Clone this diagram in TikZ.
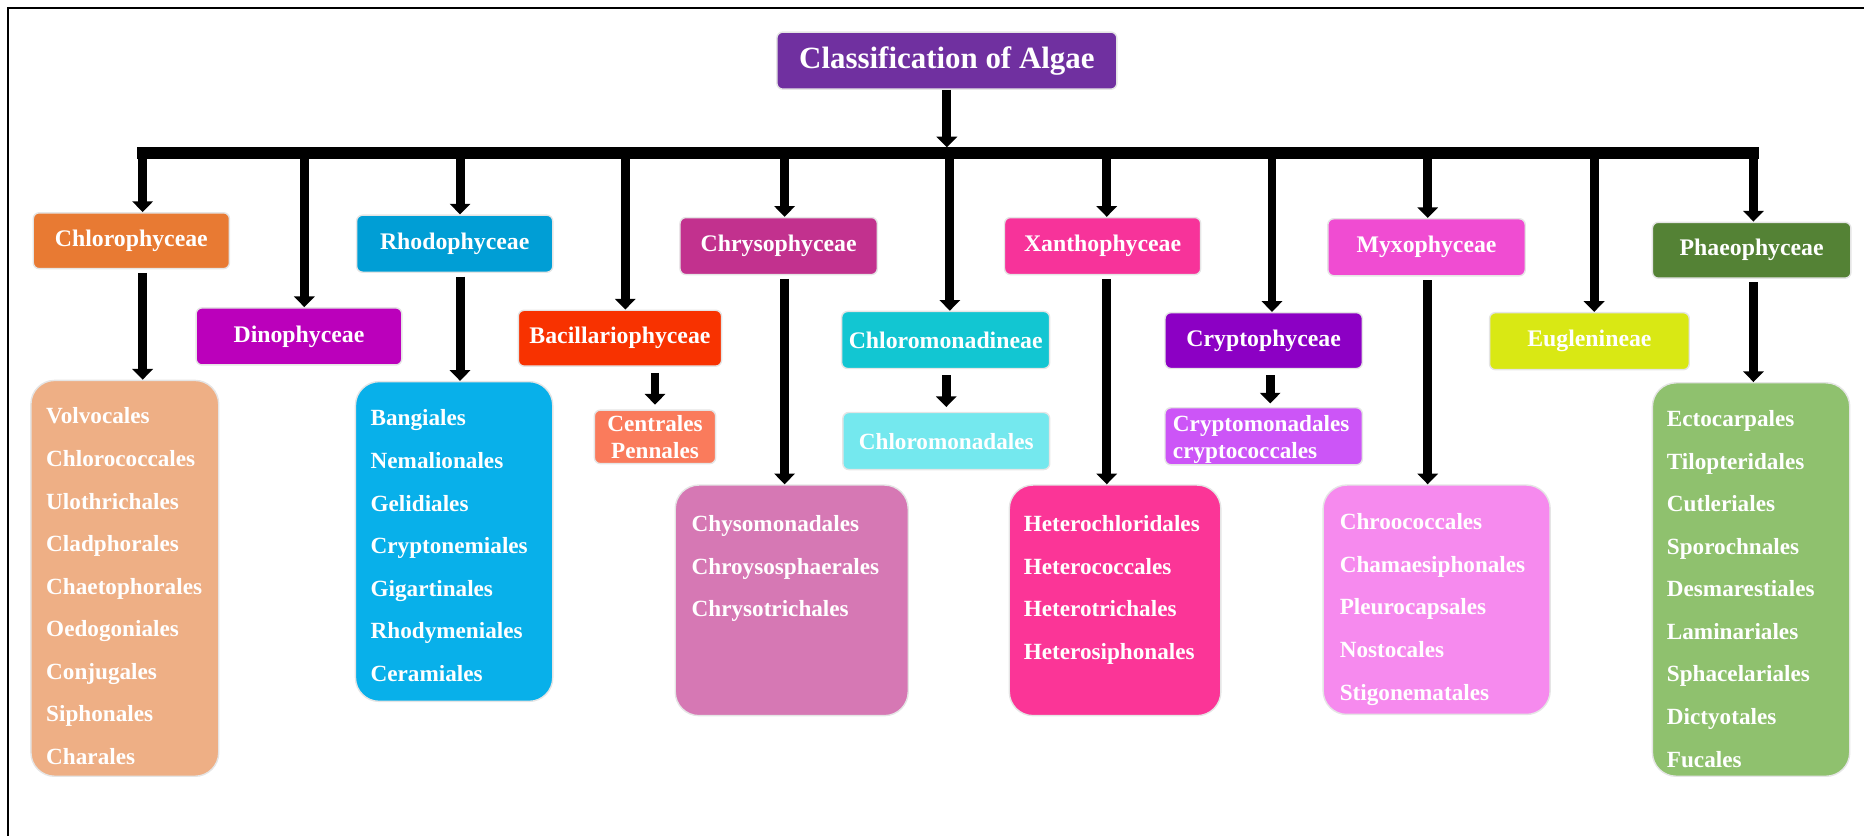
\documentclass[tikz,border=0pt]{standalone}
\usepackage{fontspec}
\setmainfont{Liberation Serif}
\usetikzlibrary{arrows.meta}
\definecolor{cTitle}{HTML}{7030A0}
\definecolor{cChl}{HTML}{E87A33}
\definecolor{cDin}{HTML}{BB00BB}
\definecolor{cRho}{HTML}{009ED5}
\definecolor{cBac}{HTML}{F83200}
\definecolor{cChr}{HTML}{C2318E}
\definecolor{cChm}{HTML}{12C6D2}
\definecolor{cXan}{HTML}{F7339A}
\definecolor{cCry}{HTML}{8C00C4}
\definecolor{cMyx}{HTML}{F04CD2}
\definecolor{cEug}{HTML}{D9E814}
\definecolor{cPha}{HTML}{548235}
\definecolor{lChl}{HTML}{EEAF85}
\definecolor{lRho}{HTML}{08B0EA}
\definecolor{lBac}{HTML}{FA7B5C}
\definecolor{lChr}{HTML}{D678B4}
\definecolor{lChm}{HTML}{74E8EE}
\definecolor{lXan}{HTML}{FB3597}
\definecolor{lCry}{HTML}{CC55F7}
\definecolor{lMyx}{HTML}{F68AEE}
\definecolor{lPha}{HTML}{8FC16E}
\tikzset{
  cat/.style={rectangle, rounded corners=5pt, draw=black!10, line width=1.2pt,
    text=white, font=\fontsize{20}{24}\selectfont\bfseries, inner sep=0pt},
  lst/.style={rectangle, rounded corners=20pt, draw=black!10, line width=1.2pt, inner sep=0pt},
  small/.style={rectangle, rounded corners=5pt, draw=black!10, line width=1.2pt, inner sep=0pt},
  items/.style={anchor=base west, align=left, text=white, inner sep=0pt,
    font=\fontsize{19.5}{35.8}\selectfont\bfseries},
  pair/.style={anchor=base, text=white, inner sep=0pt,
    font=\fontsize{19.5}{23}\selectfont\bfseries},
  conn/.style={line width=7.5pt, -{Triangle[width=17pt,length=9pt]}},
  busline/.style={line width=10pt, line cap=rect},
}
\begin{document}
\begin{tikzpicture}[x=1pt,y=-1pt]
\useasboundingbox (0,0) rectangle (1568,703);
% frame
\draw[line width=2pt] (6.7,703) -- (6.7,6.7) -- (1568,6.7);

% title
\node[cat, fill=cTitle, minimum width=286pt, minimum height=48pt,
  font=\fontsize{26}{30}\selectfont\bfseries] (title) at (796.5,51) {Classification of Algae};

% level 1
\node[cat, fill=cChl, minimum width=165pt, minimum height=47pt] (chl) at (110.5,202.5) {Chlorophyceae};
\node[cat, fill=cDin, minimum width=173pt, minimum height=48pt] (din) at (251.5,283) {Dinophyceae};
\node[cat, fill=cRho, minimum width=165pt, minimum height=48pt] (rho) at (382.5,205) {Rhodophyceae};
\node[cat, fill=cBac, minimum width=171pt, minimum height=47pt] (bac) at (521.5,284.5) {Bacillariophyceae};
\node[cat, fill=cChr, minimum width=166pt, minimum height=48pt] (chr) at (655,207) {Chrysophyceae};
\node[cat, fill=cChm, minimum width=175pt, minimum height=48pt] (chm) at (795.5,286) {Chloromonadineae};
\node[cat, fill=cXan, minimum width=165pt, minimum height=48pt] (xan) at (927.5,207) {Xanthophyceae};
\node[cat, fill=cCry, minimum width=166pt, minimum height=47pt] (cry) at (1063,286.5) {Cryptophyceae};
\node[cat, fill=cMyx, minimum width=166pt, minimum height=48pt] (myx) at (1200,208) {Myxophyceae};
\node[cat, fill=cEug, minimum width=168pt, minimum height=48pt] (eug) at (1337,287) {Euglenineae};
\node[cat, fill=cPha, minimum width=167pt, minimum height=47pt] (pha) at (1473.5,210.5) {Phaeophyceae};

% level 2 boxes
\node[lst, fill=lChl, minimum width=158pt, minimum height=333pt] (chlL) at (105,486.5) {};
\node[lst, fill=lRho, minimum width=166pt, minimum height=269pt] (rhoL) at (382,455.5) {};
\node[small, fill=lBac, minimum width=102pt, minimum height=45pt] (bacL) at (551,367.5) {};
\node[lst, fill=lChr, minimum width=196pt, minimum height=194pt] (chrL) at (666,505) {};
\node[small, fill=lChm, minimum width=174pt, minimum height=48pt] (chmL) at (796,371) {};
\node[lst, fill=lXan, minimum width=178pt, minimum height=194pt] (xanL) at (938,505) {};
\node[small, fill=lCry, minimum width=166pt, minimum height=48pt] (cryL) at (1063,367) {};
\node[lst, fill=lMyx, minimum width=191pt, minimum height=193pt] (myxL) at (1208.5,504.5) {};
\node[lst, fill=lPha, minimum width=166pt, minimum height=331pt] (phaL) at (1473,487.5) {};

% level 2 texts (base anchor = baseline of the last line)
\node[items] (chlT) at (38.7,643.0) {Volvocales\\Chlorococcales\\Ulothrichales\\Cladphorales\\Chaetophorales\\Oedogoniales\\Conjugales\\Siphonales\\Charales};
\node[items] (rhoT) at (311.6,573.1) {Bangiales\\Nemalionales\\Gelidiales\\Cryptonemiales\\Gigartinales\\Rhodymeniales\\Ceramiales};
\node[pair, align=center] (bacT) at (551,386) {Centrales\\Pennales};
\node[items] (chrT) at (581.6,518.7) {Chysomonadales\\Chroysosphaerales\\Chrysotrichales};
\node[pair] (chmT) at (796,377.7) {Chloromonadales};
\node[items] (xanT) at (861,554.5) {Heterochloridales\\Heterococcales\\Heterotrichales\\Heterosiphonales};
\node[pair, anchor=base west, align=left] (cryT) at (986.5,386) {Cryptomonadales\\cryptococcales};
\node[items] (myxT) at (1126.8,588.9) {Chroococcales\\Chamaesiphonales\\Pleurocapsales\\Nostocales\\Stigonematales};
\node[items] (phaT) at (1402,645.2) {Ectocarpales\\Tilopteridales\\Cutleriales\\Sporochnales\\Desmarestiales\\Laminariales\\Sphacelariales\\Dictyotales\\Fucales};

% bus
\coordinate (v1) at (120,129);
\coordinate (v2) at (256,129);
\coordinate (v3) at (387,129);
\coordinate (v4) at (526,129);
\coordinate (v5) at (660,129);
\coordinate (v6) at (799,129);
\coordinate (v7) at (931,129);
\coordinate (v8) at (1070,129);
\coordinate (v9) at (1201,129);
\coordinate (v10) at (1341,129);
\coordinate (v11) at (1475,129);
\coordinate (bT) at (797,124);
\draw[busline] (v1) -- (v11);
\draw[conn] (title.south) -- (title.south |- bT);

\draw[conn] (v1) -- (v1 |- chl.north);
\draw[conn] (v2) -- (v2 |- din.north);
\draw[conn] (v3) -- (v3 |- rho.north);
\draw[conn] (v4) -- (v4 |- bac.north);
\draw[conn] (v5) -- (v5 |- chr.north);
\draw[conn] (v6) -- (v6 |- chm.north);
\draw[conn] (v7) -- (v7 |- xan.north);
\draw[conn] (v8) -- (v8 |- cry.north);
\draw[conn] (v9) -- (v9 |- myx.north);
\draw[conn] (v10) -- (v10 |- eug.north);
\draw[conn] (v11) -- (v11 |- pha.north);

% level 1 -> level 2
\draw[conn, shorten <=3pt] (v1 |- chl.south) -- (v1 |- chlL.north);
\draw[conn, shorten <=3pt] (v3 |- rho.south) -- (v3 |- rhoL.north);
\draw[conn, shorten <=5pt, shorten >=4pt] (bacL.north |- bac.south) -- (bacL.north);
\draw[conn, shorten <=3pt] (v5 |- chr.south) -- (v5 |- chrL.north);
\draw[conn, shorten <=5pt, shorten >=4pt] (chmL.north |- chm.south) -- (chmL.north);
\draw[conn, shorten <=3pt] (v7 |- xan.south) -- (v7 |- xanL.north);
\coordinate (c8) at (1068.5,0);
\draw[conn, shorten <=5pt, shorten >=3pt] (c8 |- cry.south) -- (c8 |- cryL.north);
\draw[conn, shorten <=3pt] (v9 |- myx.south) -- (v9 |- myxL.north);
\draw[conn, shorten <=3pt] (v11 |- pha.south) -- (v11 |- phaL.north);
\end{tikzpicture}
\end{document}
